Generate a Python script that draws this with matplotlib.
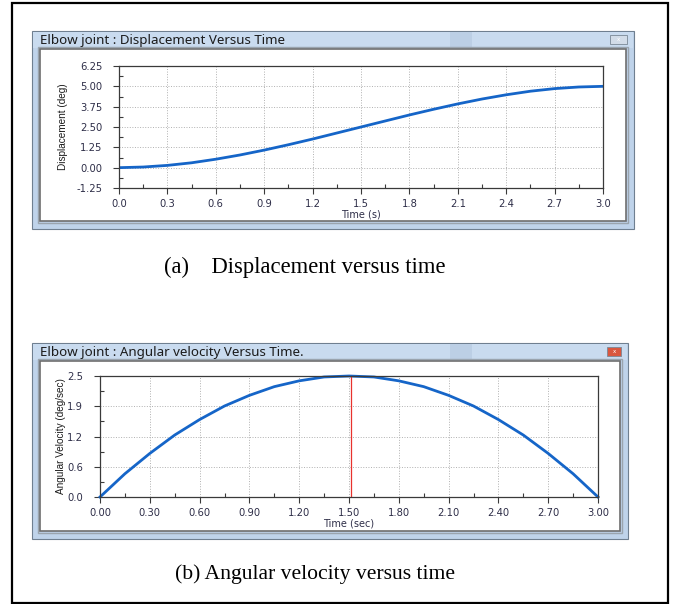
import matplotlib
matplotlib.use('Agg')
import matplotlib.pyplot as plt
from matplotlib.patches import Rectangle
from matplotlib.ticker import MultipleLocator, FixedLocator, FormatStrFormatter

# ---- data ----
time_s = [0.0, 0.15, 0.3, 0.45, 0.6, 0.75, 0.9, 1.05, 1.2, 1.35, 1.5,
          1.65, 1.8, 1.95, 2.1, 2.25, 2.4, 2.55, 2.7, 2.85, 3.0]
displacement = [0.0, 0.04, 0.14, 0.30, 0.52, 0.78, 1.08, 1.41, 1.76, 2.13, 2.50,
                2.87, 3.24, 3.59, 3.92, 4.22, 4.48, 4.70, 4.86, 4.96, 5.0]
velocity = [0.0, 0.48, 0.90, 1.28, 1.60, 1.88, 2.10, 2.28, 2.40, 2.48, 2.50,
            2.48, 2.40, 2.28, 2.10, 1.88, 1.60, 1.28, 0.90, 0.48, 0.0]
cursor_t = 1.51

disp_yticks = [-1.25, 0.0, 1.25, 2.50, 3.75, 5.00, 6.25]
vel_yticks = [0.0, 0.625, 1.25, 1.875, 2.5]
vel_ylabels = ['0.0', '0.6', '1.2', '1.9', '2.5']

W, H = 677, 604
fig = plt.figure(figsize=(W / 100, H / 100), dpi=100)

# background axes in pixel units for the document frame and windows
bg = fig.add_axes([0, 0, 1, 1])
bg.set_xlim(0, W)
bg.set_ylim(H, 0)
bg.axis('off')

bg.add_patch(Rectangle((12, 3), 656, 600, fill=False, ec='black', lw=1.6))


def draw_window(x0, y0, x1, y1, title, btn_color, btn_w):
    # outer frame
    bg.add_patch(Rectangle((x0, y0), x1 - x0, y1 - y0, fc='#bfd3ea', ec='#6f7f90', lw=0.8))
    # title bar shading
    bg.add_patch(Rectangle((x0 + 1, y0 + 1), x1 - x0 - 2, 16, fc='#c9dbef', ec='none'))
    bg.add_patch(Rectangle((x0 + 418, y0 + 1), 22, 16, fc='#a9bed6', ec='none', alpha=0.4))
    # inner client area with double grey edge
    bg.add_patch(Rectangle((x0 + 6, y0 + 16), x1 - x0 - 12, y1 - y0 - 22,
                           fc='none', ec='#9aa4ae', lw=1.0))
    bg.add_patch(Rectangle((x0 + 8, y0 + 18), x1 - x0 - 16, y1 - y0 - 26,
                           fc='white', ec='#6e6e6e', lw=1.2))
    bg.text(x0 + 8, y0 + 9.5, title, fontsize=9.6, family='Noto Sans',
            color='#1b1b1b', va='center', ha='left')
    bx = x1 - 7 - btn_w
    bg.add_patch(Rectangle((bx, y0 + 4), btn_w, 9, fc=btn_color, ec='#7a8896', lw=0.6))
    bg.text(bx + btn_w / 2, y0 + 8.5, 'x', fontsize=4, color='white',
            ha='center', va='center')


draw_window(32, 31, 634, 229, 'Elbow joint : Displacement Versus Time', '#d2dce8', 17)
draw_window(32, 343, 628, 539, 'Elbow joint : Angular velocity Versus Time.', '#d9573f', 14)

bg.text(305, 267, '(a)    Displacement versus time', fontsize=16.3,
        family='Liberation Serif', ha='center', va='center')
bg.text(315, 574, '(b) Angular velocity versus time', fontsize=15.6,
        family='Liberation Serif', ha='center', va='center')


def px_axes(x0, y0, x1, y1):
    return fig.add_axes([x0 / W, 1 - y1 / H, (x1 - x0) / W, (y1 - y0) / H])


def style_axes(ax):
    for s in ax.spines.values():
        s.set_color('#3a3a3a')
        s.set_linewidth(0.9)
    ax.grid(True, which='major', ls=':', color='#b0b0b0', lw=0.7)
    ax.tick_params(which='major', direction='out', length=4, width=0.8,
                   labelsize=7.2, colors='#3a3a3a', labelcolor='#2e2e48')
    ax.tick_params(axis='y', which='major', pad=8)
    ax.tick_params(axis='x', which='major', pad=4)
    ax.tick_params(which='minor', direction='in', length=3, width=0.8, colors='#3a3a3a')
    ax.set_axisbelow(True)


label_font = 'Liberation Sans'

# ---- (a) displacement ----
ax1 = px_axes(119, 66, 603, 188)
ax1.plot(time_s, displacement, color='#1565c8', lw=2.0)
ax1.set_xlim(0, 3.0)
ax1.set_ylim(-1.25, 6.25)
ax1.xaxis.set_major_locator(MultipleLocator(0.3))
ax1.xaxis.set_minor_locator(MultipleLocator(0.15))
ax1.xaxis.set_major_formatter(FormatStrFormatter('%.1f'))
ax1.yaxis.set_major_locator(FixedLocator(disp_yticks))
ax1.yaxis.set_minor_locator(MultipleLocator(0.625))
ax1.yaxis.set_major_formatter(FormatStrFormatter('%.2f'))
style_axes(ax1)
ax1.set_xlabel('Time (s)', fontsize=7.0, labelpad=0, color='#2e2e48')
ax1.set_ylabel('Displacement (deg)', fontsize=7.2, family=label_font,
               color='#1b1b1b')
ax1.yaxis.set_label_coords(-0.105, 0.5)

# ---- (b) angular velocity ----
ax2 = px_axes(100, 376, 598, 497)
ax2.plot(time_s, velocity, color='#1565c8', lw=2.0, clip_on=False)
ax2.axvline(cursor_t, color='#e8322e', lw=0.9)
ax2.set_xlim(0, 3.0)
ax2.set_ylim(0, 2.5)
ax2.xaxis.set_major_locator(MultipleLocator(0.3))
ax2.xaxis.set_minor_locator(MultipleLocator(0.15))
ax2.xaxis.set_major_formatter(FormatStrFormatter('%.2f'))
ax2.yaxis.set_major_locator(FixedLocator(vel_yticks))
ax2.set_yticklabels(vel_ylabels)
ax2.yaxis.set_minor_locator(MultipleLocator(0.3125))
style_axes(ax2)
ax2.set_xlabel('Time (sec)', fontsize=7.0, labelpad=0, color='#2e2e48')
ax2.set_ylabel('Angular Velocity (deg/sec)', fontsize=7.2, family=label_font,
               color='#1b1b1b')
ax2.yaxis.set_label_coords(-0.068, 0.5)

fig.savefig('out.png', dpi=100)
